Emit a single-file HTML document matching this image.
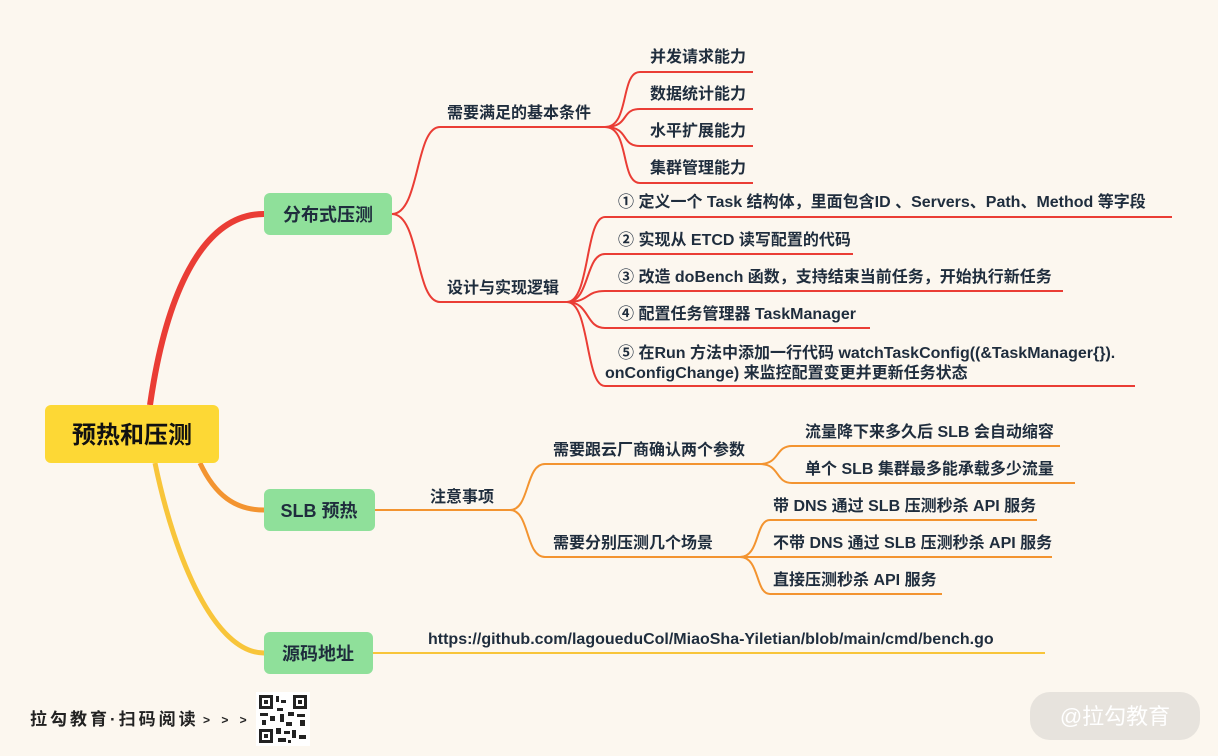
<!DOCTYPE html>
<html><head><meta charset="utf-8"><style>
html,body{margin:0;padding:0;background:#fcf7ef;}
svg{display:block;}
text{font-family:"Liberation Sans","Noto Sans CJK SC",sans-serif;font-weight:bold;}
</style></head><body>
<svg width="1218" height="756" viewBox="0 0 1218 756" xmlns="http://www.w3.org/2000/svg">
<rect width="1218" height="756" fill="#fcf7ef"/>
<path d="M150,405 C165,300 200,214 264,214" stroke="#ea3d35" stroke-width="6" fill="none"/>
<path d="M200,463 C215,495 235,510 264,510" stroke="#f39430" stroke-width="5" fill="none"/>
<path d="M155,463 C175,560 215,653 264,653" stroke="#f8c53a" stroke-width="5" fill="none"/>
<g stroke="#ea3d35" stroke-width="2" fill="none">
<path d="M392,214 C420,214 415,127 440,127 L605,127"/>
<path d="M392,214 C420,214 415,302 440,302 L567,302"/>
<path d="M605,127 C630,127 620,72 640,72 L753,72"/>
<path d="M605,127 C630,127 620,109 640,109 L753,109"/>
<path d="M605,127 C630,127 620,146 640,146 L753,146"/>
<path d="M605,127 C630,127 620,183 640,183 L753,183"/>
<path d="M567,302 C590,302 585,217 605,217 L1172,217"/>
<path d="M567,302 C590,302 585,254 605,254 L853,254"/>
<path d="M567,302 C590,302 585,291 605,291 L1063,291"/>
<path d="M567,302 C590,302 585,328 605,328 L870,328"/>
<path d="M567,302 C590,302 585,386 605,386 L1135,386"/>
</g>
<g stroke="#f39430" stroke-width="2" fill="none">
<path d="M375,510 L510,510"/>
<path d="M510,510 C530,510 525,464 545,464 L760,464"/>
<path d="M510,510 C530,510 525,557 545,557 L740,557"/>
<path d="M760,464 C780,464 775,446 792,446 L1060,446"/>
<path d="M760,464 C780,464 775,483 792,483 L1075,483"/>
<path d="M740,557 C760,557 755,520 770,520 L1037,520"/>
<path d="M740,557 L1052,557"/>
<path d="M740,557 C760,557 755,594 770,594 L942,594"/>
</g>
<path d="M373,653 L1045,653" stroke="#f8c53a" stroke-width="2" fill="none"/>
<rect x="45" y="405" width="174" height="58" rx="6" fill="#fdd835"/>
<text x="132" y="443" font-size="24" text-anchor="middle" style="fill:#111">预热和压测</text>
<g style="fill:#1f2d3d">
<rect x="264" y="193" width="128" height="42" rx="6" fill="#8fe09a"/>
<text x="328" y="221" font-size="18" text-anchor="middle">分布式压测</text>
<rect x="264" y="489" width="111" height="42" rx="6" fill="#8fe09a"/>
<text x="319" y="517" font-size="18" text-anchor="middle">SLB 预热</text>
<rect x="264" y="632" width="109" height="42" rx="6" fill="#8fe09a"/>
<text x="318" y="660" font-size="18" text-anchor="middle">源码地址</text>
</g>
<g font-size="16" style="fill:#1f2d3d">
<text x="447" y="118">需要满足的基本条件</text>
<text x="650" y="62">并发请求能力</text>
<text x="650" y="99">数据统计能力</text>
<text x="650" y="136">水平扩展能力</text>
<text x="650" y="173">集群管理能力</text>
<text x="447" y="293">设计与实现逻辑</text>
<text x="618" y="207">① 定义一个 Task 结构体，里面包含ID 、Servers、Path、Method  等字段</text>
<text x="618" y="245">② 实现从 ETCD 读写配置的代码</text>
<text x="618" y="282">③ 改造 doBench 函数，支持结束当前任务，开始执行新任务</text>
<text x="618" y="319">④ 配置任务管理器 TaskManager</text>
<text x="618" y="358">⑤ 在Run 方法中添加一行代码 watchTaskConfig((&amp;TaskManager{}).</text>
<text x="605" y="378">onConfigChange)  来监控配置变更并更新任务状态</text>
<text x="430" y="502">注意事项</text>
<text x="553" y="455">需要跟云厂商确认两个参数</text>
<text x="805" y="437">流量降下来多久后 SLB 会自动缩容</text>
<text x="805" y="474">单个 SLB 集群最多能承载多少流量</text>
<text x="553" y="548">需要分别压测几个场景</text>
<text x="773" y="511">带 DNS 通过 SLB 压测秒杀 API 服务</text>
<text x="773" y="548">不带 DNS 通过 SLB 压测秒杀 API 服务</text>
<text x="773" y="585">直接压测秒杀 API 服务</text>
<text x="428" y="644">https://github.com/lagoueduCol/MiaoSha-Yiletian/blob/main/cmd/bench.go</text>
</g>
<text x="30" y="725" font-size="17" style="fill:#222" letter-spacing="3">拉勾教育·扫码阅读</text>
<text x="203" y="724" font-size="12" style="fill:#222" letter-spacing="4">&gt; &gt; &gt;</text>
<rect x="256" y="692" width="54" height="54" fill="#fff"/>
<g fill="#222">
<rect x="259" y="695" width="14" height="14"/><rect x="262" y="698" width="8" height="8" fill="#fff"/><rect x="264" y="700" width="4" height="4"/>
<rect x="293" y="695" width="14" height="14"/><rect x="296" y="698" width="8" height="8" fill="#fff"/><rect x="298" y="700" width="4" height="4"/>
<rect x="259" y="729" width="14" height="14"/><rect x="262" y="732" width="8" height="8" fill="#fff"/><rect x="264" y="734" width="4" height="4"/>
<rect x="276" y="696" width="3" height="6"/><rect x="281" y="700" width="5" height="3"/><rect x="277" y="708" width="6" height="3"/>
<rect x="260" y="713" width="8" height="3"/><rect x="270" y="716" width="5" height="5"/><rect x="280" y="714" width="4" height="8"/>
<rect x="288" y="712" width="6" height="4"/><rect x="297" y="714" width="8" height="3"/><rect x="300" y="720" width="5" height="6"/>
<rect x="262" y="720" width="4" height="5"/><rect x="286" y="722" width="6" height="4"/><rect x="276" y="728" width="5" height="6"/>
<rect x="284" y="731" width="6" height="3"/><rect x="292" y="730" width="4" height="8"/><rect x="299" y="735" width="7" height="4"/>
<rect x="278" y="738" width="8" height="4"/><rect x="288" y="740" width="3" height="3"/>
</g>
<rect x="1030" y="692" width="170" height="48" rx="20" fill="#e7e3dd"/>
<text x="1115" y="724" font-size="22" text-anchor="middle" style="fill:#fff;font-weight:normal">@拉勾教育</text>
</svg>
</body></html>
